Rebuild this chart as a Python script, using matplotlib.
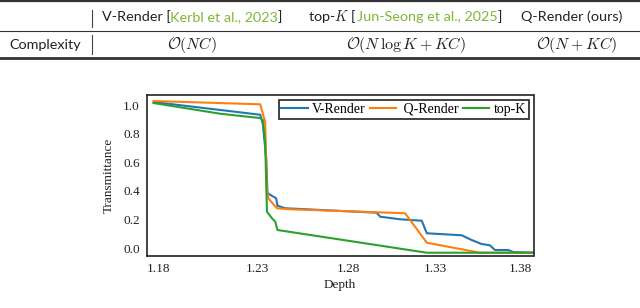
import matplotlib
matplotlib.use("Agg")
import matplotlib.pyplot as plt
from matplotlib.lines import Line2D

# ---------------- data ----------------
v_depth = [1.1774, 1.2364, 1.2378, 1.2397, 1.2404, 1.2452, 1.2459, 1.2502, 1.3008,
           1.3027, 1.3137, 1.3257, 1.3285, 1.3478, 1.3533, 1.3588, 1.3634, 1.3662,
           1.3735, 1.3763, 1.3872]
v_trans = [1.021, 0.932, 0.869, 0.624, 0.383, 0.348, 0.296, 0.278, 0.247,
           0.219, 0.201, 0.191, 0.103, 0.089, 0.056, 0.028, 0.019, -0.014,
           -0.014, -0.028, -0.033]

q_depth = [1.1774, 1.2364, 1.2391, 1.2401, 1.2410, 1.2456, 1.2529, 1.3165, 1.3285,
           1.3579, 1.3872]
q_trans = [1.028, 1.005, 0.881, 0.392, 0.345, 0.278, 0.271, 0.243, 0.037,
           -0.033, -0.033]

k_depth = [1.1774, 1.2143, 1.2364, 1.2378, 1.2391, 1.2401, 1.2429, 1.2447, 1.2459,
           1.3285, 1.3872]
k_trans = [1.014, 0.939, 0.909, 0.893, 0.741, 0.254, 0.208, 0.184, 0.126,
           -0.033, -0.033]

x_tick_pos = [1.18, 1.2347, 1.285, 1.333, 1.38]
x_tick_labels = ["1.18", "1.23", "1.28", "1.33", "1.38"]
y_ticks = [0.0, 0.2, 0.4, 0.6, 0.8, 1.0]

series_names = ["V-Render", " Q-Render", "top-K"]
series_colors = ["#1f77b4", "#ff7f0e", "#2ca02c"]

header_cells = [
    [("V-Render [", "k"), ("Kerbl et al., 2023", "g"), ("]", "k")],
    [("top-$K$ [", "k"), ("Jun-Seong et al., 2025", "g"), ("]", "k")],
    [("Q-Render (ours)", "k")],
]
row_label = "Complexity"
complexity = [r"$\mathcal{O}(NC)$", r"$\mathcal{O}(N\,\log K+KC)$", r"$\mathcal{O}(N+KC)$"]

# ---------------- figure ----------------
W, H = 640, 308
fig = plt.figure(figsize=(W / 100, H / 100), dpi=100)

serif = ["Liberation Serif", "DejaVu Serif"]
ax = fig.add_axes([146.7 / W, 1 - 256.3 / H, (533.5 - 146.7) / W, (256.3 - 95.3) / H])
for d, t, name, col in zip([v_depth, q_depth, k_depth], [v_trans, q_trans, k_trans],
                           series_names, series_colors):
    ax.plot(d, t, color=col, lw=1.5, label=name)

ax.set_xlim(1.1736, 1.3875)
ax.set_ylim(-0.058, 1.068)
ax.set_xticks(x_tick_pos)
ax.set_xticklabels(x_tick_labels)
ax.set_yticks(y_ticks)
ax.set_yticklabels([f"{v:.1f}" for v in y_ticks])
ax.tick_params(length=0, pad=5, labelsize=9.5, labelcolor="#222222")
for lab in ax.get_xticklabels() + ax.get_yticklabels():
    lab.set_family(serif)
for s in ax.spines.values():
    s.set_color("#222222")
    s.set_linewidth(1.2)
ax.set_xlabel("Depth", family=serif, fontsize=9.5, color="#222222", labelpad=3)
ax.set_ylabel("Transmittance", family=serif, fontsize=9.5, color="#222222", labelpad=6)
leg = ax.legend(ncol=3, loc="upper right", frameon=True, fancybox=False,
                handlelength=1.9, handletextpad=0.3, columnspacing=0.3,
                borderpad=0.2, borderaxespad=0.35, prop={"family": serif, "size": 10})
leg.get_frame().set_edgecolor("black")
leg.get_frame().set_linewidth(1.3)

# ---------------- table ----------------
green = "#7cb934"
cmap = {"k": "#222222", "g": green}
text_font = dict(family=["Lato", "DejaVu Sans"], fontsize=10.4, math_fontfamily="cm")
math_font = dict(fontsize=11.5, math_fontfamily="cm")

fig.canvas.draw()
renderer = fig.canvas.get_renderer()


def rich(pieces, x_px, base_px, align, font):
    texts = [fig.text(0, 0, s, color=cmap[c], va="baseline", ha="left", **font)
             for s, c in pieces]
    widths = [t.get_window_extent(renderer).width for t in texts]
    total = sum(widths)
    cur = x_px - total / 2 if align == "center" else x_px
    for t, w in zip(texts, widths):
        t.set_position((cur / W, 1 - base_px / H))
        cur += w


header_centers = [192, 405, 572]
for cell, cx in zip(header_cells, header_centers):
    rich(cell, cx, 21, "center", text_font)

fig.text(9 / W, 1 - 49.3 / H, row_label, va="baseline", ha="left", color="#222222", **text_font)
for s, cx in zip(complexity, [192, 406, 577]):
    rich([(s, "k")], cx, 49.3, "center", math_font)

rule_col = "#333333"
fig.add_artist(Line2D([0, 1], [1 - 1 / H, 1 - 1 / H], color=rule_col, lw=1.6))
fig.add_artist(Line2D([0, 1], [1 - 30.8 / H, 1 - 30.8 / H], color=rule_col, lw=0.8))
fig.add_artist(Line2D([0, 1], [1 - 57.5 / H, 1 - 57.5 / H], color=rule_col, lw=2.0))
fig.add_artist(Line2D([92 / W, 92 / W], [1 - 10 / H, 1 - 27 / H], color="#444444", lw=0.8))
fig.add_artist(Line2D([92 / W, 92 / W], [1 - 35 / H, 1 - 54 / H], color="#444444", lw=0.8))

fig.savefig("out.png", dpi=100)
